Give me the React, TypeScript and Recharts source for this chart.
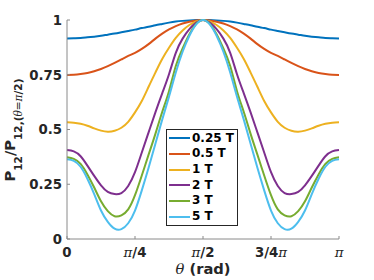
import React from 'react';
import { LineChart, Line, XAxis, YAxis } from 'recharts';

// theta in units of pi
const thetaPi = [
  0, 0.025, 0.05, 0.075, 0.1, 0.125, 0.15, 0.175, 0.2, 0.225, 0.25, 0.275, 0.3, 0.325, 0.35, 0.375, 0.4, 0.425, 0.45, 0.475,
  0.5,
  0.525, 0.55, 0.575, 0.6, 0.625, 0.65, 0.675, 0.7, 0.725, 0.75, 0.775, 0.8, 0.825, 0.85, 0.875, 0.9, 0.925, 0.95, 0.975, 1,
];

const s025 = [
  0.916, 0.917, 0.918, 0.921, 0.924, 0.928, 0.933, 0.938, 0.944, 0.95, 0.956, 0.963, 0.969, 0.976, 0.982, 0.988, 0.993, 0.996, 0.998, 0.9995,
  1.0,
  0.9995, 0.998, 0.996, 0.993, 0.988, 0.982, 0.976, 0.969, 0.963, 0.956, 0.95, 0.944, 0.938, 0.933, 0.928, 0.924, 0.921, 0.918, 0.917, 0.916,
];
const s05 = [
  0.749, 0.75, 0.753, 0.758, 0.766, 0.776, 0.789, 0.804, 0.82, 0.836, 0.85, 0.868, 0.89, 0.915, 0.938, 0.957, 0.972, 0.984, 0.992, 0.998,
  1.0,
  0.998, 0.992, 0.984, 0.972, 0.957, 0.938, 0.915, 0.89, 0.868, 0.85, 0.836, 0.82, 0.804, 0.789, 0.776, 0.766, 0.758, 0.753, 0.75, 0.749,
];
const s1 = [
  0.533, 0.531, 0.526, 0.517, 0.505, 0.495, 0.49, 0.494, 0.508, 0.535, 0.578, 0.63, 0.695, 0.76, 0.822, 0.873, 0.918, 0.952, 0.977, 0.993,
  1.0,
  0.993, 0.977, 0.952, 0.918, 0.873, 0.822, 0.76, 0.695, 0.63, 0.578, 0.535, 0.508, 0.494, 0.49, 0.495, 0.505, 0.517, 0.526, 0.531, 0.533,
];
const s2 = [
  0.406, 0.4, 0.378, 0.335, 0.288, 0.245, 0.215, 0.205, 0.21, 0.242, 0.305, 0.395, 0.487, 0.578, 0.665, 0.752, 0.85, 0.915, 0.958, 0.988,
  1.0,
  0.988, 0.958, 0.915, 0.85, 0.752, 0.665, 0.578, 0.487, 0.395, 0.305, 0.242, 0.21, 0.205, 0.215, 0.245, 0.288, 0.335, 0.378, 0.4, 0.406,
];
const s3 = [
  0.373, 0.366, 0.343, 0.295, 0.235, 0.172, 0.127, 0.104, 0.108, 0.135, 0.2, 0.29, 0.385, 0.48, 0.58, 0.675, 0.79, 0.87, 0.935, 0.982,
  1.0,
  0.982, 0.935, 0.87, 0.79, 0.675, 0.58, 0.48, 0.385, 0.29, 0.2, 0.135, 0.108, 0.104, 0.127, 0.172, 0.235, 0.295, 0.343, 0.366, 0.373,
];
const s5 = [
  0.364, 0.357, 0.33, 0.275, 0.205, 0.13, 0.078, 0.047, 0.045, 0.072, 0.13, 0.222, 0.325, 0.435, 0.545, 0.65, 0.76, 0.855, 0.928, 0.98,
  1.0,
  0.98, 0.928, 0.855, 0.76, 0.65, 0.545, 0.435, 0.325, 0.222, 0.13, 0.072, 0.045, 0.047, 0.078, 0.13, 0.205, 0.275, 0.33, 0.357, 0.364,
];

const seriesNames = ['0.25 T', '0.5 T', '1 T', '2 T', '3 T', '5 T'];
const seriesColors = ['#0072BD', '#D95319', '#EDB120', '#7E2F8E', '#77AC30', '#4DBEEE'];
const seriesValues = [s025, s05, s1, s2, s3, s5];

const xTickValues = [0, 0.25, 0.5, 0.75, 1];
const xTickLabels = ['0', 'π/4', 'π/2', '3/4π', 'π'];
const yTickValues = [0, 0.25, 0.5, 0.75, 1];
const yTickLabels = ['0', '0.25', '0.5', '0.75', '1'];

const data = thetaPi.map((t, i) => {
  const row: Record<string, number> = { t };
  seriesValues.forEach((vals, k) => {
    row['s' + k] = vals[i];
  });
  return row;
});

const AXIS = '#8a8a8a';
const TXT = '#262626';
const SANS = '"DejaVu Sans", sans-serif';
const SERIF = '"DejaVu Serif", serif';
const TICK_FS = 13.3;

function piParts(label: string) {
  const parts = label.split('π');
  const out: React.ReactNode[] = [];
  parts.forEach((p, i) => {
    if (p) out.push(<tspan key={'p' + i}>{p}</tspan>);
    if (i < parts.length - 1)
      out.push(
        <tspan key={'pi' + i} fontFamily={SERIF} fontWeight="normal" fontStyle="italic">
          π
        </tspan>
      );
  });
  return out;
}

const BottomTick = (props: any) => {
  const { x, y, payload } = props;
  const idx = xTickValues.indexOf(payload.value);
  return (
    <g>
      <line x1={x} x2={x} y1={y} y2={y - 3} stroke={AXIS} />
      <text x={x} y={y + 18} textAnchor="middle" fontFamily={SANS} fontWeight="bold" fontSize={TICK_FS} fill={TXT}>
        {piParts(xTickLabels[idx] ?? '')}
      </text>
    </g>
  );
};
const TopTick = (props: any) => {
  const { x, y } = props;
  return <line x1={x} x2={x} y1={y} y2={y + 3} stroke={AXIS} />;
};
const LeftTick = (props: any) => {
  const { x, y, payload } = props;
  const idx = yTickValues.indexOf(payload.value);
  return (
    <g>
      <line x1={x} x2={x + 3} y1={y} y2={y} stroke={AXIS} />
      <text x={x - 5} y={y + 4.8} textAnchor="end" fontFamily={SANS} fontWeight="bold" fontSize={TICK_FS} fill={TXT}>
        {yTickLabels[idx] ?? ''}
      </text>
    </g>
  );
};
const RightTick = (props: any) => {
  const { x, y } = props;
  return <line x1={x} x2={x - 3} y1={y} y2={y} stroke={AXIS} />;
};

export default function App() {
  return (
    <div style={{ position: 'absolute', left: 0, top: 0, width: 374, height: 280, background: '#fff' }}>
      <LineChart width={374} height={280} data={data} margin={{ top: 20, right: 35, left: 0, bottom: 0 }}>
        <XAxis
          dataKey="t"
          type="number"
          domain={[0, 1]}
          ticks={xTickValues}
          height={41}
          tickLine={false}
          tickSize={0}
          tickMargin={0}
          axisLine={{ stroke: AXIS }}
          tick={<BottomTick />}
          interval={0}
        />
        <XAxis
          xAxisId="top"
          orientation="top"
          dataKey="t"
          type="number"
          domain={[0, 1]}
          ticks={xTickValues}
          height={0}
          tickLine={false}
          tickSize={0}
          tickMargin={0}
          axisLine={{ stroke: AXIS }}
          tick={<TopTick />}
          interval={0}
        />
        <YAxis
          type="number"
          domain={[0, 1]}
          ticks={yTickValues}
          width={67}
          tickLine={false}
          tickSize={0}
          tickMargin={0}
          axisLine={{ stroke: AXIS }}
          tick={<LeftTick />}
          interval={0}
        />
        <YAxis
          yAxisId="right"
          orientation="right"
          type="number"
          domain={[0, 1]}
          ticks={yTickValues}
          width={0}
          tickLine={false}
          tickSize={0}
          tickMargin={0}
          axisLine={{ stroke: AXIS }}
          tick={<RightTick />}
          interval={0}
        />
        {seriesNames.map((n, k) => (
          <Line
            key={n}
            dataKey={'s' + k}
            name={n}
            type="natural"
            stroke={seriesColors[k]}
            strokeWidth={2}
            dot={false}
            isAnimationActive={false}
          />
        ))}
      </LineChart>
      <svg width={374} height={280} style={{ position: 'absolute', left: 0, top: 0, pointerEvents: 'none' }}>
        <text
          transform="translate(15,130) rotate(-90)"
          textAnchor="middle"
          fontFamily={SANS}
          fontWeight="bold"
          fontSize={14.7}
          fill={TXT}
        >
          <tspan>P</tspan>
          <tspan fontSize={10.5} dy={7}>12</tspan>
          <tspan dy={-7}>/P</tspan>
          <tspan fontSize={10.5} dy={7}>12,(</tspan>
          <tspan fontSize={10.5} fontFamily={SERIF} fontStyle="italic" fontWeight="normal">θ</tspan>
          <tspan fontSize={10.5} fontFamily={SERIF} fontWeight="normal">=</tspan>
          <tspan fontSize={10.5} fontFamily={SERIF} fontStyle="italic" fontWeight="normal">π</tspan>
          <tspan fontSize={10.5}>/2)</tspan>
        </text>
        <text x={203} y={274} textAnchor="middle" fontFamily={SANS} fontWeight="bold" fontSize={14.7} fill={TXT}>
          <tspan fontFamily={SERIF} fontStyle="italic" fontWeight="normal">θ</tspan>
          <tspan> (rad)</tspan>
        </text>
      </svg>
      <div
        style={{
          position: 'absolute',
          left: 166,
          top: 129,
          width: 72,
          height: 97,
          boxSizing: 'border-box',
          border: '1px solid #262626',
          background: '#fff',
          paddingTop: 0.5,
          fontFamily: SANS,
          fontWeight: 'bold',
          fontSize: 12,
          color: '#000',
        }}
      >
        {seriesNames.map((n, k) => (
          <div key={n} style={{ height: 15.7, lineHeight: '15.7px', display: 'flex', alignItems: 'center', whiteSpace: 'nowrap' }}>
            <span
              style={{ display: 'inline-block', width: 21, height: 2, marginLeft: 2, marginRight: 2, background: seriesColors[k] }}
            />
            <span>{n}</span>
          </div>
        ))}
      </div>
    </div>
  );
}
